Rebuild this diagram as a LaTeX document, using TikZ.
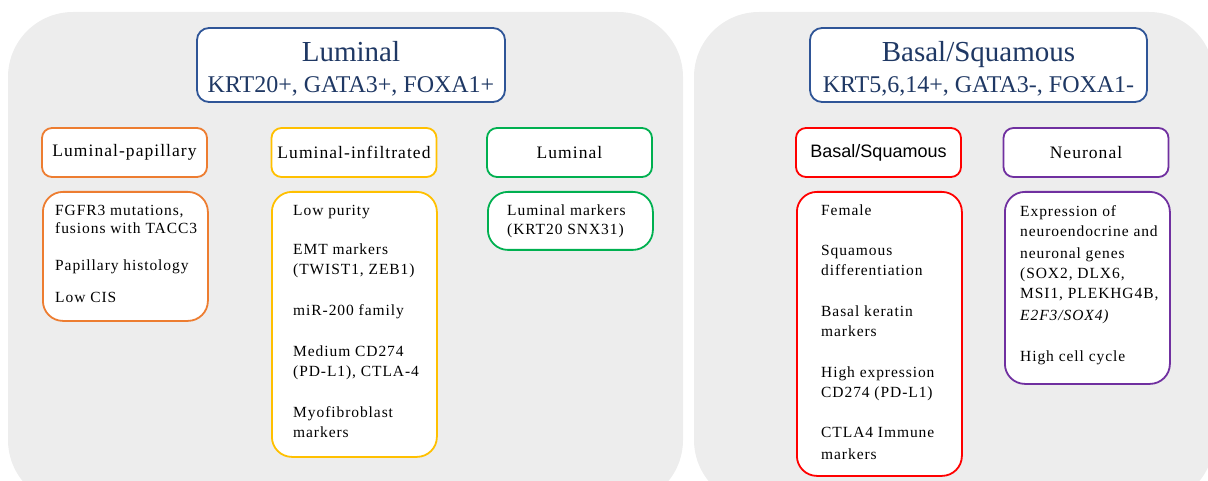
\documentclass[tikz,border=0pt]{standalone}
\usepackage{fontspec}
\setmainfont{Liberation Serif}
\newfontfamily\bodyfont[LetterSpace=6]{Liberation Serif}
\newfontfamily\headsans{Liberation Sans}
\usepackage{xcolor}
\usetikzlibrary{positioning}

\definecolor{panelgray}{HTML}{EDEDED}
\definecolor{titleblue}{HTML}{2F5597}
\definecolor{titletext}{HTML}{1F3864}
\definecolor{lpOrange}{HTML}{ED7D31}
\definecolor{liYellow}{HTML}{FFC000}
\definecolor{luGreen}{HTML}{00B050}
\definecolor{bsRed}{HTML}{FF0000}
\definecolor{nePurple}{HTML}{7030A0}

\tikzset{
    titlebox/.style={draw=titleblue, line width=1.8pt, rounded corners=12pt, fill=white,
        text=titletext, align=center, minimum width=#1, minimum height=74pt, inner sep=0pt,
        font=\fontsize{24}{31}\selectfont},
    headbox/.style={draw=#1, line width=1.8pt, rounded corners=10pt, fill=white,
        minimum width=165pt, minimum height=49pt, inner sep=0pt,
        font=\bodyfont\fontsize{17.5}{20}\selectfont},
    detailbox/.style={draw=#1, line width=1.8pt, rounded corners=20pt, fill=white,
        minimum width=165pt, anchor=north west, inner sep=0pt},
    items/.style={anchor=north west, align=left, inner sep=0pt,
        font=\bodyfont\fontsize{15.5}{20}\selectfont}
}

\begin{document}
\begin{tikzpicture}[x=1pt, y=-1pt]
    \useasboundingbox (0,0) rectangle (1208,481);
    \clip (0,0) rectangle (1208,481);

    % panels
    \fill[panelgray, rounded corners=65pt] (8,12) rectangle (683,505);
    \fill[panelgray, rounded corners=65pt] (694,12) rectangle (1214,505);

    % titles
    \node[titlebox=308pt] (lumtitle) at (351,65)
        {\rule{0pt}{27pt}{\fontsize{29}{31}\selectfont Luminal}\\KRT20+, GATA3+, FOXA1+};
    \node[titlebox=337pt] (bastitle) at (978.5,65)
        {\rule{0pt}{27pt}{\fontsize{29}{31}\selectfont Basal/Squamous}\\KRT5,6,14+, GATA3-, FOXA1-};

    % subtypes
    \node[headbox=lpOrange] (lphead) at (124.5,152.5) {Luminal-papillary};
    \node[headbox=liYellow] (lihead) at (354,152.5) {Luminal-infiltrated};
    \node[headbox=luGreen] (luhead) at (569.5,152.5) {Luminal};
    \node[headbox=bsRed, font=\headsans\fontsize{18}{20}\selectfont] (bshead) at (878.5,152.5) {Basal/Squamous};
    \node[headbox=nePurple] (nehead) at (1086,152.5) {Neuronal};

    % detail boxes
    \node[detailbox=lpOrange, minimum height=129pt] (lpbox) at (42,191) {};
    \node[detailbox=liYellow, minimum height=265pt] (libox) at (271,191) {};
    \node[detailbox=luGreen, minimum height=58pt] (lubox) at (487,191) {};
    \node[detailbox=bsRed, minimum height=284pt] (bsbox) at (796,191) {};
    \node[detailbox=nePurple, minimum height=192pt] (nebox) at (1004,191) {};

    % texts
    \node[items, font=\bodyfont\fontsize{15.5}{18}\selectfont] (lptext)
        at ([xshift=13pt, yshift=-14pt]lpbox.north west)
        {FGFR3 mutations,\\fusions with TACC3\\[19pt]Papillary histology\\[14pt]Low CIS};
    \node[items] (litext) at ([xshift=22pt, yshift=-14pt]libox.north west)
        {Low purity\\[19pt]EMT markers\\(TWIST1, ZEB1)\\[21pt]miR-200 family\\[21pt]Medium CD274\\(PD-L1), CTLA-4\\[21pt]Myofibroblast\\markers};
    \node[items, font=\bodyfont\fontsize{15.5}{19}\selectfont] (lutext)
        at ([xshift=20pt, yshift=-14pt]lubox.north west)
        {Luminal markers\\(KRT20 SNX31)};
    \node[items] (bstext) at ([xshift=25pt, yshift=-14pt]bsbox.north west)
        {Female\\[20pt]Squamous\\differentiation\\[21pt]Basal keratin\\markers\\[21pt]High expression\\CD274 (PD-L1)\\[20pt]CTLA4 Immune\\[2pt]markers};
    \node[items] (netext) at ([xshift=16pt, yshift=-14pt]nebox.north west)
        {Expression of\\neuroendocrine and\\[2pt]neuronal genes\\(SOX2, DLX6,\\MSI1, PLEKHG4B,\\[2pt]\textit{E2F3/SOX4)}\\[21pt]High cell cycle};
\end{tikzpicture}
\end{document}
